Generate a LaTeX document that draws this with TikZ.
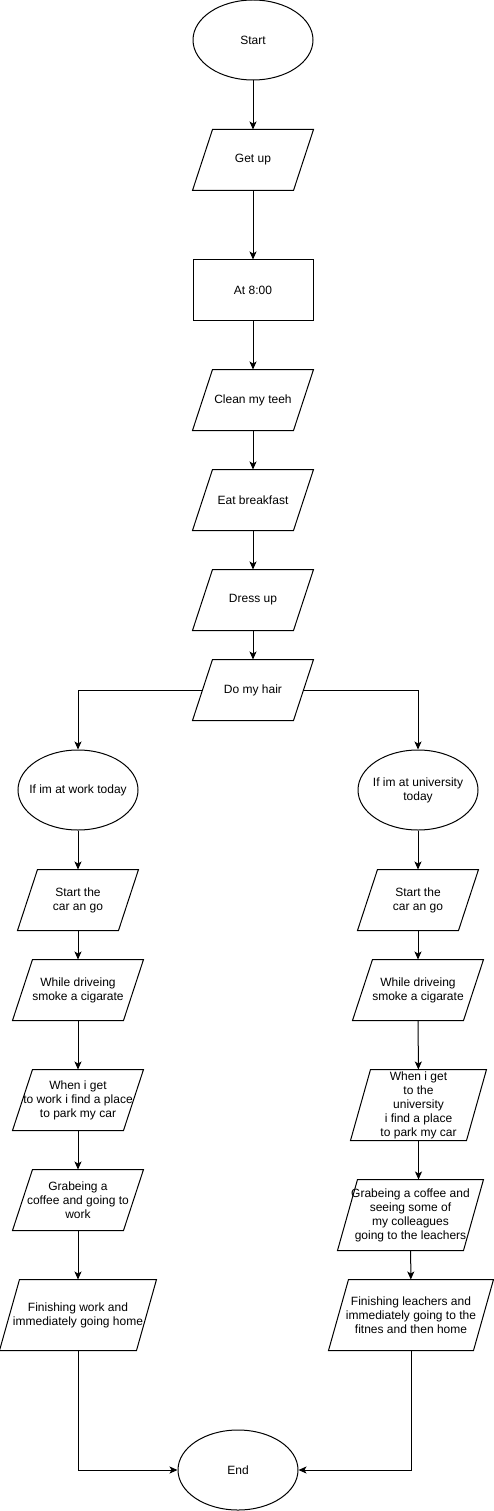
\documentclass[tikz,border=0pt]{standalone}
\usepackage{fontspec}
\setmainfont{Liberation Sans}
\usetikzlibrary{shapes.geometric,arrows.meta}

\tikzset{
  base/.style={inner sep=0pt, align=center, font=\fontsize{12}{14}\selectfont},
  term/.style={base, draw, ellipse, inner xsep=-20pt,
    minimum width=120pt, minimum height=80pt},
  proc/.style={base, draw, rectangle, minimum width=120pt, minimum height=60pt},
  io/.style={base, rectangle, minimum width=120pt, minimum height=60pt,
    append after command={\pgfextra{\draw
      ([xshift=20pt]\tikzlastnode.north west) -- (\tikzlastnode.north east)
      -- ([xshift=-20pt]\tikzlastnode.south east) -- (\tikzlastnode.south west)
      -- cycle;}}},
  iotall/.style={io, minimum height=70pt},
}

\begin{document}
\begin{tikzpicture}[x=1pt, y=-1pt, line width=1pt,
    >={Stealth[length=8pt,width=7pt,inset=2pt]}]
        \useasboundingbox (0,0) rectangle (493,1511);

        \node[term] (start)     at (253, 40) {Start};
        \node[io]   (getup)     at (253,160) {Get up};
        \node[proc] (eight)     at (253,290) {At 8:00};
        \node[io]   (teeth)     at (253,400) {Clean my teeh};
        \node[io]   (breakfast) at (253,500) {Eat breakfast};
        \node[io]   (dress)     at (253,600) {Dress up};
        \node[io]   (hair)      at (253,690) {Do my hair};

        \node[term] (workq) at ( 78,790) {If im at work today};
        \node[term] (uniq)  at (418,790) {If im at university\\today};

        \node[io] (carL) at ( 78,900) {Start the\\car an go};
        \node[io] (carR) at (418,900) {Start the\\car an go};

        \node[io, minimum width=130pt] (smokeL) at ( 78,990) {While driveing\\smoke a cigarate};
        \node[io, minimum width=130pt] (smokeR) at (418,990) {While driveing\\smoke a cigarate};

        \node[io, minimum width=130pt] (parkL) at ( 78,1100) {When i get\\to work i find a place\\to park my car};
        \node[iotall, minimum width=135pt] (parkR) at (418.5,1105) {When i get\\to the\\university\\i find a place\\to park my car};

        \node[io, minimum width=130pt] (coffeeL) at ( 78,1200) {Grabeing a\\coffee and going to\\work};
        \node[iotall, minimum width=145pt] (coffeeR) at (410.5,1215) {Grabeing a coffee and\\seeing some of\\my colleagues\\going to the leachers};

        \node[iotall, minimum width=156pt] (homeL) at ( 78,1315) {Finishing work and\\immediately going home};
        \node[iotall, minimum width=164pt] (homeR) at (411,1315) {Finishing leachers and\\immediately going to the\\fitnes and then home};

        \node[term] (end) at (238,1470) {End};

        \draw[->] (start) to (getup);
        \draw[->] (getup) to (eight);
        \draw[->] (eight) to (teeth);
        \draw[->] (teeth) to (breakfast);
        \draw[->] (breakfast) to (dress);
        \draw[->] (dress) to (hair);

        \draw[->] ([xshift=10pt]hair.west) -| (workq.north);
        \draw[->] ([xshift=-10pt]hair.east) -| (uniq.north);

        \draw[->] (workq) to (carL);
        \draw[->] (carL) to (smokeL);
        \draw[->] (smokeL) to (parkL);
        \draw[->] (parkL) to (coffeeL);
        \draw[->] (coffeeL) to (homeL);

        \draw[->] (uniq) to (carR);
        \draw[->] (carR) to (smokeR);
        \draw[->] (smokeR) to (parkR);
        \draw[->] (parkR.south) -- (parkR.south |- coffeeR.north);
        \draw[->] (coffeeR) to (homeR);

        \draw[->] (homeL.south) |- (end.west);
        \draw[->] (homeR.south) |- (end.east);
      \end{tikzpicture}
\end{document}
